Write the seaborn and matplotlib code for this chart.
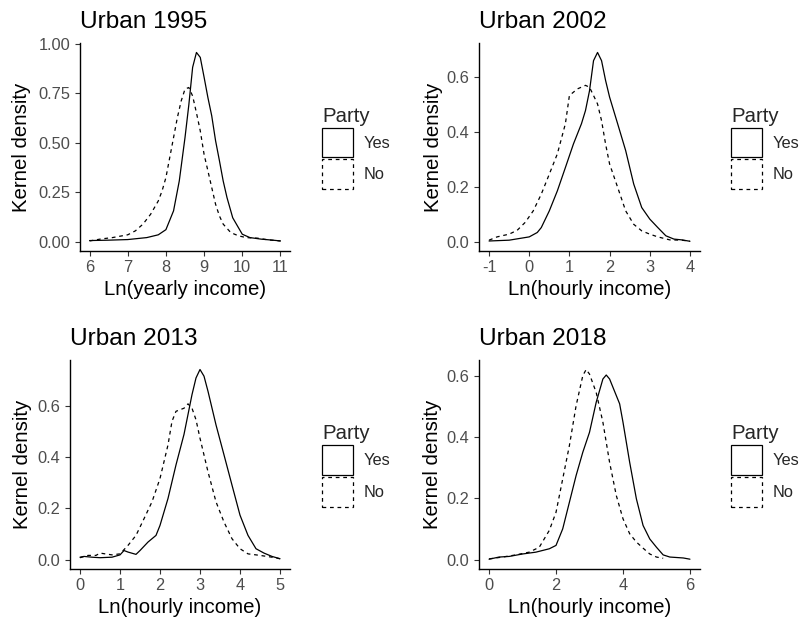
import matplotlib
matplotlib.use("Agg")
import matplotlib.pyplot as plt
import seaborn as sns
import pandas as pd
from matplotlib.patches import Patch
from matplotlib.ticker import FormatStrFormatter

# ---------------- data ----------------
titles = ["Urban 1995", "Urban 2002", "Urban 2013", "Urban 2018"]
xlabels = ["Ln(yearly income)", "Ln(hourly income)", "Ln(hourly income)", "Ln(hourly income)"]
ylabel = "Kernel density"
legend_title = "Party"
party_levels = ["Yes", "No"]

xticks_1995 = [6, 7, 8, 9, 10, 11]
yticks_1995 = [0.0, 0.25, 0.5, 0.75, 1.0]
xticks_2002 = [-1, 0, 1, 2, 3, 4]
yticks_2002 = [0.0, 0.2, 0.4, 0.6]
xticks_2013 = [0, 1, 2, 3, 4, 5]
yticks_2013 = [0.0, 0.2, 0.4, 0.6]
xticks_2018 = [0, 2, 4, 6]
yticks_2018 = [0.0, 0.2, 0.4, 0.6]

# Urban 1995
yes_1995_x = [6.0, 6.5, 7.0, 7.5, 7.8, 8.0, 8.2, 8.35, 8.5, 8.6, 8.7, 8.8, 8.9, 9.0, 9.1, 9.2, 9.3, 9.4, 9.5, 9.6, 9.75, 9.9, 10.0, 10.2, 10.5, 10.8, 11.0]
yes_1995_y = [0.005, 0.007, 0.010, 0.020, 0.034, 0.060, 0.155, 0.306, 0.525, 0.690, 0.880, 0.955, 0.930, 0.830, 0.727, 0.635, 0.510, 0.410, 0.306, 0.222, 0.120, 0.070, 0.037, 0.020, 0.012, 0.007, 0.003]
no_1995_x = [6.0, 6.3, 6.6, 7.0, 7.2, 7.4, 7.6, 7.8, 7.9, 8.0, 8.1, 8.2, 8.3, 8.4, 8.5, 8.6, 8.7, 8.8, 8.9, 9.0, 9.1, 9.2, 9.3, 9.4, 9.5, 9.7, 9.9, 10.1, 10.4, 10.7, 11.0]
no_1995_y = [0.003, 0.013, 0.020, 0.034, 0.054, 0.088, 0.138, 0.205, 0.256, 0.323, 0.424, 0.525, 0.626, 0.710, 0.770, 0.778, 0.735, 0.650, 0.559, 0.440, 0.357, 0.273, 0.189, 0.130, 0.088, 0.045, 0.029, 0.020, 0.017, 0.008, 0.003]

# Urban 2002
yes_2002_x = [-1.0, -0.5, 0.0, 0.2, 0.3, 0.5, 0.7, 0.9, 1.1, 1.3, 1.4, 1.5, 1.6, 1.7, 1.8, 1.9, 2.0, 2.2, 2.4, 2.6, 2.8, 3.0, 3.2, 3.4, 3.6, 3.8, 4.0]
yes_2002_y = [0.002, 0.005, 0.017, 0.033, 0.051, 0.112, 0.185, 0.270, 0.356, 0.430, 0.478, 0.550, 0.660, 0.690, 0.660, 0.588, 0.527, 0.430, 0.332, 0.210, 0.124, 0.082, 0.051, 0.021, 0.009, 0.006, 0.001]
no_2002_x = [-1.0, -0.8, -0.5, -0.3, -0.1, 0.1, 0.3, 0.5, 0.7, 0.9, 1.0, 1.2, 1.4, 1.5, 1.6, 1.7, 1.8, 1.9, 2.0, 2.2, 2.4, 2.6, 2.8, 3.0, 3.2, 3.5, 3.8, 4.0]
no_2002_y = [0.005, 0.017, 0.027, 0.041, 0.070, 0.112, 0.173, 0.246, 0.320, 0.430, 0.533, 0.557, 0.570, 0.563, 0.533, 0.502, 0.441, 0.356, 0.283, 0.198, 0.112, 0.063, 0.039, 0.027, 0.017, 0.006, 0.005, 0.001]

# Urban 2013
yes_2013_x = [0.0, 0.1, 0.3, 0.5, 0.8, 1.0, 1.1, 1.2, 1.4, 1.5, 1.7, 1.9, 2.0, 2.2, 2.4, 2.6, 2.8, 2.9, 3.0, 3.1, 3.2, 3.4, 3.6, 3.8, 4.0, 4.2, 4.4, 4.6, 4.8, 5.0]
yes_2013_y = [0.009, 0.012, 0.009, 0.007, 0.009, 0.018, 0.035, 0.029, 0.020, 0.035, 0.068, 0.094, 0.133, 0.238, 0.369, 0.488, 0.643, 0.708, 0.741, 0.715, 0.656, 0.525, 0.408, 0.290, 0.173, 0.094, 0.042, 0.025, 0.012, 0.003]
no_2013_x = [0.0, 0.2, 0.4, 0.5, 0.8, 1.0, 1.2, 1.4, 1.6, 1.8, 2.0, 2.2, 2.3, 2.4, 2.5, 2.6, 2.7, 2.8, 2.9, 3.0, 3.2, 3.4, 3.6, 3.8, 4.0, 4.2, 4.5, 4.8, 5.0]
no_2013_y = [0.007, 0.016, 0.016, 0.025, 0.018, 0.022, 0.055, 0.094, 0.159, 0.225, 0.316, 0.447, 0.539, 0.578, 0.584, 0.590, 0.607, 0.590, 0.545, 0.473, 0.342, 0.225, 0.146, 0.081, 0.042, 0.022, 0.016, 0.009, 0.003]

# Urban 2018
yes_2018_x = [0.0, 0.3, 0.6, 1.0, 1.4, 1.8, 2.0, 2.2, 2.4, 2.6, 2.8, 3.0, 3.2, 3.4, 3.5, 3.6, 3.8, 3.9, 4.0, 4.2, 4.4, 4.6, 4.8, 5.0, 5.2, 5.4, 5.8, 6.0]
yes_2018_y = [0.001, 0.008, 0.010, 0.018, 0.024, 0.035, 0.046, 0.100, 0.187, 0.274, 0.350, 0.415, 0.513, 0.589, 0.602, 0.589, 0.535, 0.508, 0.448, 0.317, 0.198, 0.111, 0.067, 0.040, 0.015, 0.008, 0.005, 0.001]
no_2018_x = [0.0, 0.4, 0.8, 1.2, 1.5, 1.8, 2.0, 2.2, 2.4, 2.6, 2.8, 2.9, 3.0, 3.2, 3.4, 3.6, 3.8, 4.0, 4.2, 4.4, 4.6, 4.8, 5.0, 5.2]
no_2018_y = [0.002, 0.008, 0.015, 0.024, 0.040, 0.095, 0.154, 0.263, 0.372, 0.502, 0.600, 0.620, 0.605, 0.545, 0.448, 0.317, 0.209, 0.133, 0.084, 0.057, 0.037, 0.018, 0.008, 0.004]

panels = [
    (yes_1995_x, yes_1995_y, no_1995_x, no_1995_y, xticks_1995, yticks_1995, "%.2f"),
    (yes_2002_x, yes_2002_y, no_2002_x, no_2002_y, xticks_2002, yticks_2002, "%.1f"),
    (yes_2013_x, yes_2013_y, no_2013_x, no_2013_y, xticks_2013, yticks_2013, "%.1f"),
    (yes_2018_x, yes_2018_y, no_2018_x, no_2018_y, xticks_2018, yticks_2018, "%.1f"),
]

# ---------------- style ----------------
sns.set_style("ticks")
plt.rcParams["font.family"] = ["Liberation Sans", "DejaVu Sans"]
plt.rcParams["axes.unicode_minus"] = False

W, H = 804, 628
fig = plt.figure(figsize=(W / 100, H / 100), dpi=100)

# panel boxes in pixels: left, right, top, bottom
boxes = [(80, 290, 43, 251), (479, 700, 43, 251), (70, 290, 360, 569), (479, 700, 360, 569)]
ylab_x = [31, 443, 32, 442]
legend_left = [322, 731, 322, 731]

base = 14.7
tick_size = 11.75
dash = (3, 3)

for i, (yx, yy, nx, ny, xt, yt, fmt) in enumerate(panels):
    l, r, t, b = boxes[i]
    ax = fig.add_axes([l / W, 1 - b / H, (r - l) / W, (b - t) / H])
    df = pd.concat([
        pd.DataFrame({"x": yx, "density": yy, "Party": "Yes"}),
        pd.DataFrame({"x": nx, "density": ny, "Party": "No"}),
    ], ignore_index=True)
    sns.lineplot(data=df, x="x", y="density", style="Party", style_order=party_levels,
                 dashes={"Yes": "", "No": dash}, color="black", linewidth=0.9,
                 estimator=None, sort=True, legend=False, ax=ax)

    # ggplot-like 5% expansion
    allx = list(yx) + list(nx)
    ally = list(yy) + list(ny)
    xr = max(allx) - min(allx)
    yr = max(ally) - 0.0
    ax.set_xlim(min(allx) - 0.05 * xr, max(allx) + 0.05 * xr)
    ax.set_ylim(0.0 - 0.05 * yr, max(ally) + 0.05 * yr)

    ax.set_xticks(xt)
    ax.set_yticks(yt)
    ax.yaxis.set_major_formatter(FormatStrFormatter(fmt))
    ax.xaxis.set_major_formatter(FormatStrFormatter("%d"))
    ax.tick_params(axis="both", which="major", direction="out", length=3.6, width=0.8,
                   color="#333333", labelcolor="#4D4D4D", labelsize=tick_size, pad=3.2)
    for s in ["top", "right"]:
        ax.spines[s].set_visible(False)
    for s in ["left", "bottom"]:
        ax.spines[s].set_color("black")
        ax.spines[s].set_linewidth(1.0)
    ax.set_facecolor("white")

    ax.set_title(titles[i], loc="left", fontsize=17.6, color="black", pad=11)
    ax.set_xlabel(xlabels[i], fontsize=base, color="black")
    ax.set_ylabel(ylabel, fontsize=base, color="black")
    ax.xaxis.set_label_coords(0.5, -29 / (b - t))
    ax.yaxis.set_label_coords((ylab_x[i] - l) / (r - l), 0.5)

    handles = [
        Patch(facecolor="white", edgecolor="black", linewidth=0.9, linestyle="-", label="Yes"),
        Patch(facecolor="white", edgecolor="black", linewidth=0.9, linestyle=(0, dash), label="No"),
    ]
    cy = (t + b) / 2 + 1
    fig.legend(handles=handles, title=legend_title, loc="center left",
               bbox_to_anchor=(legend_left[i] / W, 1 - cy / H),
               frameon=False, fontsize=tick_size, title_fontsize=base,
               handlelength=1.9, handleheight=2.45, labelspacing=0.12,
               handletextpad=0.65, borderpad=0, borderaxespad=0,
               alignment="left")

fig.savefig("out.png", dpi=100, facecolor="white")
